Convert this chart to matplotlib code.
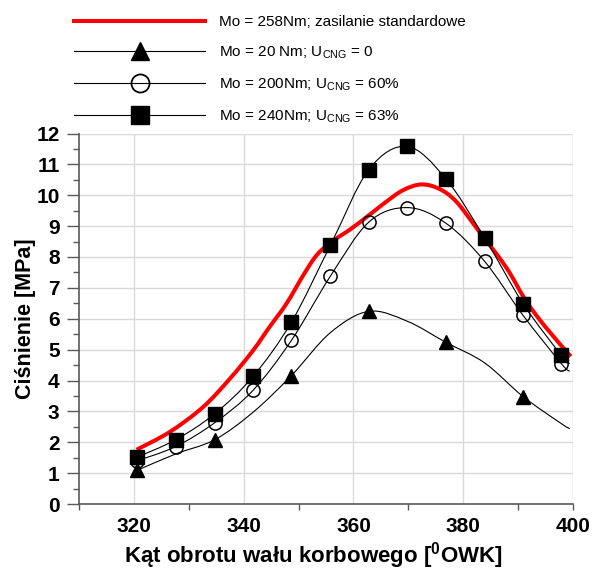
import matplotlib
matplotlib.use('Agg')
import numpy as np
import matplotlib.pyplot as plt
from matplotlib.path import Path
from matplotlib.patches import PathPatch
from matplotlib.lines import Line2D
from matplotlib.ticker import MultipleLocator, FixedLocator

plt.rcParams['font.family'] = ['Liberation Sans', 'DejaVu Sans']
plt.rcParams['mathtext.fontset'] = 'custom'
plt.rcParams['mathtext.rm'] = 'Liberation Sans'
plt.rcParams['mathtext.bf'] = 'Liberation Sans:bold'

# kąt obrotu wału [deg OWK] - punkty pomiarowe (ostatni bez znacznika)
kat = [320.6, 327.6, 334.7, 341.7, 348.7, 355.8, 362.8, 369.8, 376.8, 383.9, 390.9, 397.9, 399.4]
p_20nm = [1.09, 1.62, 2.08, 2.97, 4.16, 5.55, 6.24, 5.92, 5.24, 4.57, 3.48, 2.60, 2.44]
p_200nm = [1.40, 1.86, 2.63, 3.68, 5.30, 7.38, 9.13, 9.60, 9.10, 7.86, 6.11, 4.54, 4.30]
p_240nm = [1.52, 2.08, 2.92, 4.13, 5.89, 8.38, 10.83, 11.58, 10.54, 8.62, 6.49, 4.81, 4.55]

# zasilanie standardowe (Mo = 258Nm)
kat_std = [320.5, 326.5, 332.6, 337.5, 341.7, 344.7, 347.8, 351.0, 353.5, 356.5, 359.3, 362.8,
           365.9, 369.0, 372.3, 375.6, 378.7, 382.6, 387.8, 391.4, 395.0, 399.6]
p_std = [1.76, 2.33, 3.14, 4.06, 4.97, 5.73, 6.49, 7.45, 8.10, 8.55, 8.88, 9.35,
         9.78, 10.16, 10.35, 10.21, 9.80, 8.90, 7.67, 6.59, 5.73, 4.78]

etykiety = ['Mo = 258Nm; zasilanie standardowe',
            'Mo = 20 Nm; U$_\\mathregular{CNG}$ = 0',
            'Mo = 200Nm; U$_\\mathregular{CNG}$ = 60%',
            'Mo = 240Nm; U$_\\mathregular{CNG}$ = 63%']


def gladka_linia(ax, x, y, **kw):
    # wygładzona linia (jak w Excelu) - krzywe Beziera przez punkty
    pts = np.column_stack([x, y])
    n = len(pts)
    verts = [pts[0]]
    codes = [Path.MOVETO]
    for i in range(n - 1):
        p0 = pts[i - 1] if i > 0 else pts[i]
        p1 = pts[i]
        p2 = pts[i + 1]
        p3 = pts[i + 2] if i + 2 < n else p2
        verts += [p1 + (p2 - p0) / 6, p2 - (p3 - p1) / 6, p2]
        codes += [Path.CURVE4] * 3
    ax.add_patch(PathPatch(Path(verts, codes), fill=False, **kw))


fig = plt.figure(figsize=(5.93, 5.70))
ax = fig.add_axes([79 / 593, 1 - 504 / 570, 494 / 593, 370.5 / 570])

gladka_linia(ax, kat_std, p_std, edgecolor='red', lw=2.9, zorder=3)
gladka_linia(ax, kat, p_20nm, edgecolor='black', lw=0.8, zorder=4)
gladka_linia(ax, kat, p_200nm, edgecolor='black', lw=0.8, zorder=4)
gladka_linia(ax, kat, p_240nm, edgecolor='black', lw=0.8, zorder=4)

ax.plot(kat[:-1], p_20nm[:-1], ls='none', marker='^', ms=10, color='black',
        markevery=2, zorder=5)
ax.plot(kat[:-1], p_200nm[:-1], ls='none', marker='o', ms=9.5, mfc='none',
        mec='black', mew=1.1, zorder=5)
ax.plot(kat[:-1], p_240nm[:-1], ls='none', marker='s', ms=9.5, color='black', zorder=5)

ax.set_xlim(310, 400)
ax.set_ylim(0, 12)

szary = '#595959'
ax.xaxis.set_major_locator(MultipleLocator(20))
ax.xaxis.set_minor_locator(FixedLocator([310, 330, 350, 370, 390, 400]))
ax.xaxis.remove_overlapping_locs = False
ax.yaxis.set_major_locator(MultipleLocator(1))
ax.yaxis.set_minor_locator(MultipleLocator(0.5))
ax.tick_params(axis='x', which='major', length=0, pad=9, labelsize=15)
ax.tick_params(axis='x', which='minor', length=4, width=1, color=szary, direction='out')
ax.tick_params(axis='y', which='major', length=9, width=1, color=szary, pad=5, labelsize=15)
ax.tick_params(axis='y', which='minor', length=4.5, width=1, color=szary)
for lab in ax.get_xticklabels() + ax.get_yticklabels():
    lab.set_fontweight('bold')

ax.grid(True, which='major', color='#d9d9d9', lw=1)
ax.set_axisbelow(True)
for s in ['top', 'right']:
    ax.spines[s].set_visible(False)
for s in ['left', 'bottom']:
    ax.spines[s].set_color(szary)
    ax.spines[s].set_linewidth(1.2)

ax.set_xlabel('Kąt obrotu wału korbowego [$^\\mathregular{0}$OWK]', fontsize=16,
              fontweight='bold')
ax.xaxis.set_label_coords((313 - 79) / 494, (504 - 540) / 370.5)
ax.set_ylabel('Ciśnienie [MPa]', fontsize=15.5, fontweight='bold', labelpad=0)

uchwyty = [
    Line2D([], [], color='red', lw=2.9),
    Line2D([], [], color='black', lw=0.8, marker='^', ms=13),
    Line2D([], [], color='black', lw=0.8, marker='o', ms=13, mfc='none', mew=1.3),
    Line2D([], [], color='black', lw=0.8, marker='s', ms=13),
]
fig.legend(uchwyty, etykiety, loc='upper left', bbox_to_anchor=(74 / 593, 1 - 15 / 570),
           frameon=False, fontsize=11, handlelength=8.6, handletextpad=0.9,
           labelspacing=1.0, borderpad=0, borderaxespad=0, numpoints=1)

fig.savefig('out.png', dpi=100)
